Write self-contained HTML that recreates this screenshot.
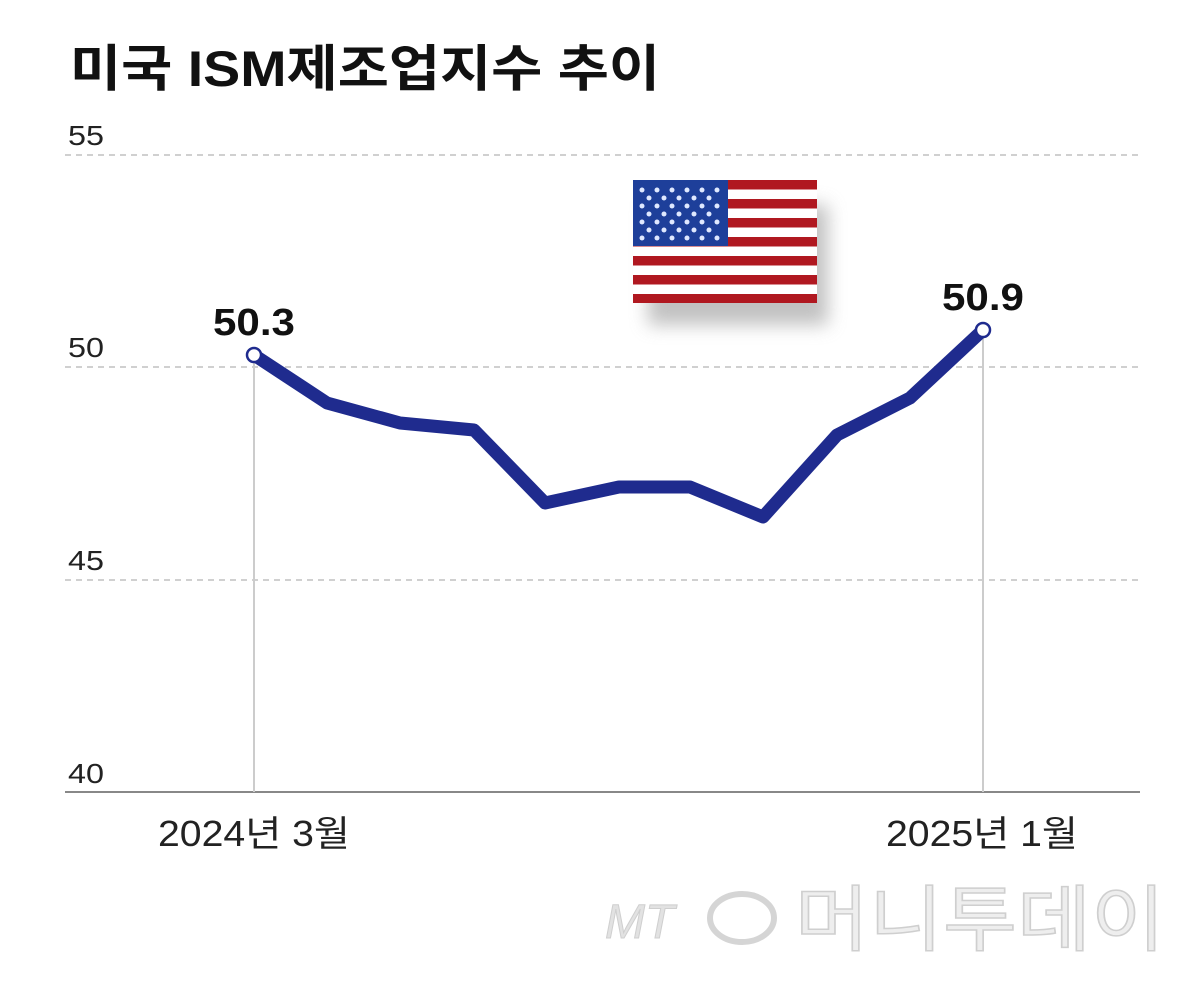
<!DOCTYPE html>
<html><head><meta charset="utf-8"><style>
body{margin:0;background:#fff;}
svg{display:block}
</style></head><body>
<svg width="1200" height="986" viewBox="0 0 1200 986" xmlns="http://www.w3.org/2000/svg" font-family="'Liberation Sans','Noto Sans CJK KR',sans-serif">
<defs>
<filter id="sh" x="-20%" y="-20%" width="150%" height="160%"><feGaussianBlur stdDeviation="9"/></filter>
</defs>
<text x="70" y="86" font-size="50" font-weight="bold" fill="#111" textLength="590" lengthAdjust="spacingAndGlyphs">미국 ISM제조업지수 추이</text>
<g font-size="28" fill="#222">
<text x="68" y="145" textLength="36" lengthAdjust="spacingAndGlyphs">55</text>
<text x="68" y="357" textLength="36" lengthAdjust="spacingAndGlyphs">50</text>
<text x="68" y="570" textLength="36" lengthAdjust="spacingAndGlyphs">45</text>
<text x="68" y="783" textLength="36" lengthAdjust="spacingAndGlyphs">40</text>
</g>
<g stroke="#d0d0d0" stroke-width="2" stroke-dasharray="6,5">
<line x1="65" y1="155" x2="1140" y2="155"/>
<line x1="65" y1="367" x2="1140" y2="367"/>
<line x1="65" y1="580" x2="1140" y2="580"/>
</g>
<line x1="65" y1="792" x2="1140" y2="792" stroke="#888" stroke-width="2"/>
<line x1="254" y1="355" x2="254" y2="792" stroke="#ccc" stroke-width="2"/>
<line x1="983" y1="330" x2="983" y2="792" stroke="#ccc" stroke-width="2"/>
<rect x="648" y="205" width="180" height="120" fill="#999" opacity="0.6" filter="url(#sh)"/>
<g>
<rect x="633" y="180" width="184" height="123" fill="#fff"/>
<g fill="#b01820">
<rect x="633" y="180" width="184" height="9.5"/>
<rect x="633" y="199" width="184" height="9.5"/>
<rect x="633" y="218" width="184" height="9.5"/>
<rect x="633" y="237" width="184" height="9.5"/>
<rect x="633" y="256" width="184" height="9.5"/>
<rect x="633" y="275" width="184" height="9.5"/>
<rect x="633" y="294" width="184" height="9"/>
</g>
<rect x="633" y="180" width="95" height="66" fill="#1e3f9a"/>
<g fill="#dfe8ff">
<circle cx="642" cy="190" r="2.5"/><circle cx="657" cy="190" r="2.5"/><circle cx="672" cy="190" r="2.5"/><circle cx="687" cy="190" r="2.5"/><circle cx="702" cy="190" r="2.5"/><circle cx="717" cy="190" r="2.5"/>
<circle cx="649" cy="198" r="2.5"/><circle cx="664" cy="198" r="2.5"/><circle cx="679" cy="198" r="2.5"/><circle cx="694" cy="198" r="2.5"/><circle cx="709" cy="198" r="2.5"/>
<circle cx="642" cy="206" r="2.5"/><circle cx="657" cy="206" r="2.5"/><circle cx="672" cy="206" r="2.5"/><circle cx="687" cy="206" r="2.5"/><circle cx="702" cy="206" r="2.5"/><circle cx="717" cy="206" r="2.5"/>
<circle cx="649" cy="214" r="2.5"/><circle cx="664" cy="214" r="2.5"/><circle cx="679" cy="214" r="2.5"/><circle cx="694" cy="214" r="2.5"/><circle cx="709" cy="214" r="2.5"/>
<circle cx="642" cy="222" r="2.5"/><circle cx="657" cy="222" r="2.5"/><circle cx="672" cy="222" r="2.5"/><circle cx="687" cy="222" r="2.5"/><circle cx="702" cy="222" r="2.5"/><circle cx="717" cy="222" r="2.5"/>
<circle cx="649" cy="230" r="2.5"/><circle cx="664" cy="230" r="2.5"/><circle cx="679" cy="230" r="2.5"/><circle cx="694" cy="230" r="2.5"/><circle cx="709" cy="230" r="2.5"/>
<circle cx="642" cy="238" r="2.5"/><circle cx="657" cy="238" r="2.5"/><circle cx="672" cy="238" r="2.5"/><circle cx="687" cy="238" r="2.5"/><circle cx="702" cy="238" r="2.5"/><circle cx="717" cy="238" r="2.5"/>
</g>
</g>
<polyline points="254,355 327,403 400,423 474,430 545,503 619,487 690,487 763,517 837,435 910,398 983,330" fill="none" stroke="#1f2b8e" stroke-width="13" stroke-linejoin="round" stroke-linecap="round"/>
<circle cx="254" cy="355" r="7" fill="#fff" stroke="#1f2b8e" stroke-width="2.5"/>
<circle cx="983" cy="330" r="7" fill="#fff" stroke="#1f2b8e" stroke-width="2.5"/>
<text x="213" y="335" font-size="38" font-weight="bold" fill="#111" textLength="82" lengthAdjust="spacingAndGlyphs">50.3</text>
<text x="942" y="310" font-size="38" font-weight="bold" fill="#111" textLength="82" lengthAdjust="spacingAndGlyphs">50.9</text>
<text x="158" y="846" font-size="36" fill="#222" textLength="192" lengthAdjust="spacingAndGlyphs">2024년 3월</text>
<text x="886" y="846" font-size="36" fill="#222" textLength="192" lengthAdjust="spacingAndGlyphs">2025년 1월</text>
<text x="605" y="938" font-size="48" font-style="italic" fill="#e2e2e2" stroke="#cfcfcf" stroke-width="1">MT</text>
<ellipse cx="742" cy="918" rx="32" ry="24" fill="none" stroke="#d5d5d5" stroke-width="6"/>
<text x="795" y="945" font-size="72" fill="#eee" stroke="#cfcfcf" stroke-width="1.5" textLength="370" lengthAdjust="spacingAndGlyphs">머니투데이</text>
</svg>
</body></html>
